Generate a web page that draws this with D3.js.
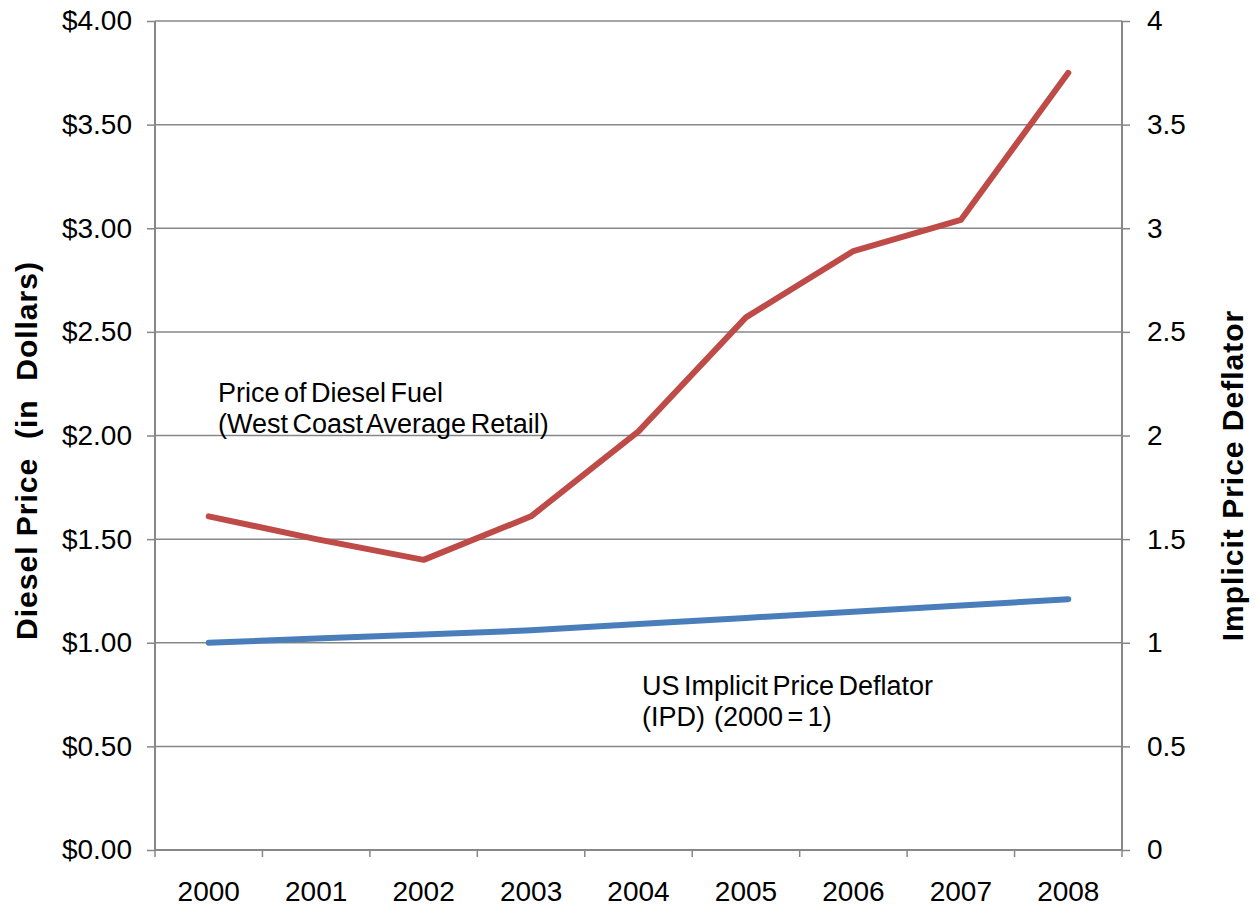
<!DOCTYPE html>
<html lang="en">
<head>
<meta charset="UTF-8">
<title>Diesel Price vs Implicit Price Deflator</title>
<script src="https://cdn.jsdelivr.net/npm/d3@7"></script>
<style>
  * { margin: 0; padding: 0; }
  html, body { background: #fff; overflow: hidden; }
  svg { display: block; }
  text { font-family: "Liberation Sans", Arial, sans-serif; fill: #000; }
</style>
</head>
<body>
<svg></svg>
<script>
  // data
  const years = ['2000', '2001', '2002', '2003', '2004', '2005', '2006', '2007', '2008'];
  const diesel = [1.61, 1.50, 1.40, 1.61, 2.02, 2.57, 2.89, 3.04, 3.75];
  const deflator = [1.00, 1.02, 1.04, 1.06, 1.09, 1.12, 1.15, 1.18, 1.21];
  const leftTicks = [0, 0.5, 1, 1.5, 2, 2.5, 3, 3.5, 4];
  const rightTicks = [0, 0.5, 1, 1.5, 2, 2.5, 3, 3.5, 4];

  const width = 1257, height = 909;
  const margin = { left: 155, top: 21, right: 135, bottom: 59 };
  const innerWidth = width - margin.left - margin.right;
  const innerHeight = height - margin.top - margin.bottom;

  const svg = d3.select('svg').attr('width', width).attr('height', height);
  const g = svg.append('g').attr('transform', `translate(${margin.left},${margin.top})`);

  const xScale = d3.scaleBand().domain(years).range([0, innerWidth]);
  const yLeft = d3.scaleLinear().domain([0, 4]).range([innerHeight, 0]);
  const yRight = d3.scaleLinear().domain([0, 4]).range([innerHeight, 0]);

  const axisColor = '#878787';

  // horizontal gridlines
  g.selectAll('.grid').data(leftTicks.filter(d => d > 0)).enter()
    .append('line')
    .attr('x1', 0).attr('x2', innerWidth)
    .attr('y1', d => yLeft(d)).attr('y2', d => yLeft(d))
    .attr('stroke', axisColor).attr('stroke-width', 1.5);

  // left axis
  const la = g.append('g').call(d3.axisLeft(yLeft).tickValues(leftTicks)
      .tickFormat(d => '$' + d.toFixed(2)).tickSize(8).tickPadding(15));
  // right axis
  const ra = g.append('g').attr('transform', `translate(${innerWidth},0)`)
    .call(d3.axisRight(yRight).tickValues(rightTicks).tickFormat(d3.format('')).tickSize(8).tickPadding(17));
  // bottom axis, ticks on band edges
  const ba = g.append('g').attr('transform', `translate(0,${innerHeight})`)
    .call(d3.axisBottom(xScale).tickSize(0).tickPadding(31));
  ba.selectAll('.edge').data(d3.range(years.length + 1)).enter()
    .append('line').attr('class', 'edge')
    .attr('x1', i => i * xScale.step()).attr('x2', i => i * xScale.step())
    .attr('y1', 0).attr('y2', 7)
    .attr('stroke', axisColor).attr('stroke-width', 1.5);

  [la, ra, ba].forEach(a => {
    a.select('.domain').attr('stroke', axisColor).attr('stroke-width', 2);
    a.selectAll('.tick line').attr('stroke', axisColor).attr('stroke-width', 1.5);
    a.selectAll('text').style('font-size', '28px').attr('fill', '#000')
      .style('font-family', '"Liberation Sans", Arial, sans-serif');
  });
  la.select('.domain').attr('d', `M0,0V${innerHeight}`);
  ra.select('.domain').attr('d', `M0,0V${innerHeight}`);
  ba.select('.domain').attr('d', `M0,0H${innerWidth}`);

  // lines
  const line = yScale => d3.line()
    .x((d, i) => xScale(years[i]) + xScale.bandwidth() / 2)
    .y(d => yScale(d));

  g.append('path').datum(deflator)
    .attr('d', line(yRight))
    .attr('fill', 'none').attr('stroke', '#4A7EBB').attr('stroke-width', 6)
    .attr('stroke-linecap', 'round').attr('stroke-linejoin', 'round');

  g.append('path').datum(diesel)
    .attr('d', line(yLeft))
    .attr('fill', 'none').attr('stroke', '#BE4B48').attr('stroke-width', 6)
    .attr('stroke-linecap', 'round').attr('stroke-linejoin', 'round');

  // annotations
  const note = (x, y, lines) => {
    const t = svg.append('text').attr('x', x).attr('y', y)
      .style('font-size', '27px').style('word-spacing', '-3px').style('white-space', 'pre');
    lines.forEach((s, i) => t.append('tspan').attr('x', x).attr('dy', i === 0 ? 0 : 31).text(s));
  };
  note(218, 402, ['Price of Diesel Fuel', '(West Coast Average Retail)']);
  note(642, 695, ['US Implicit Price Deflator', '(IPD)  (2000 = 1)']);

  // axis titles
  svg.append('text')
    .attr('transform', `translate(37,${margin.top + innerHeight / 2 + 15}) rotate(-90)`)
    .attr('text-anchor', 'middle')
    .style('font-size', '30px').style('font-weight', 'bold').style('letter-spacing', '1px')
    .style('white-space', 'pre')
    .text('Diesel Price  (in  Dollars)');
  svg.append('text')
    .attr('transform', `translate(1243,${margin.top + innerHeight / 2 + 40}) rotate(-90)`)
    .attr('text-anchor', 'middle')
    .style('font-size', '30px').style('font-weight', 'bold').style('letter-spacing', '1px')
    .text('Implicit Price Deflator');
</script>
</body>
</html>
